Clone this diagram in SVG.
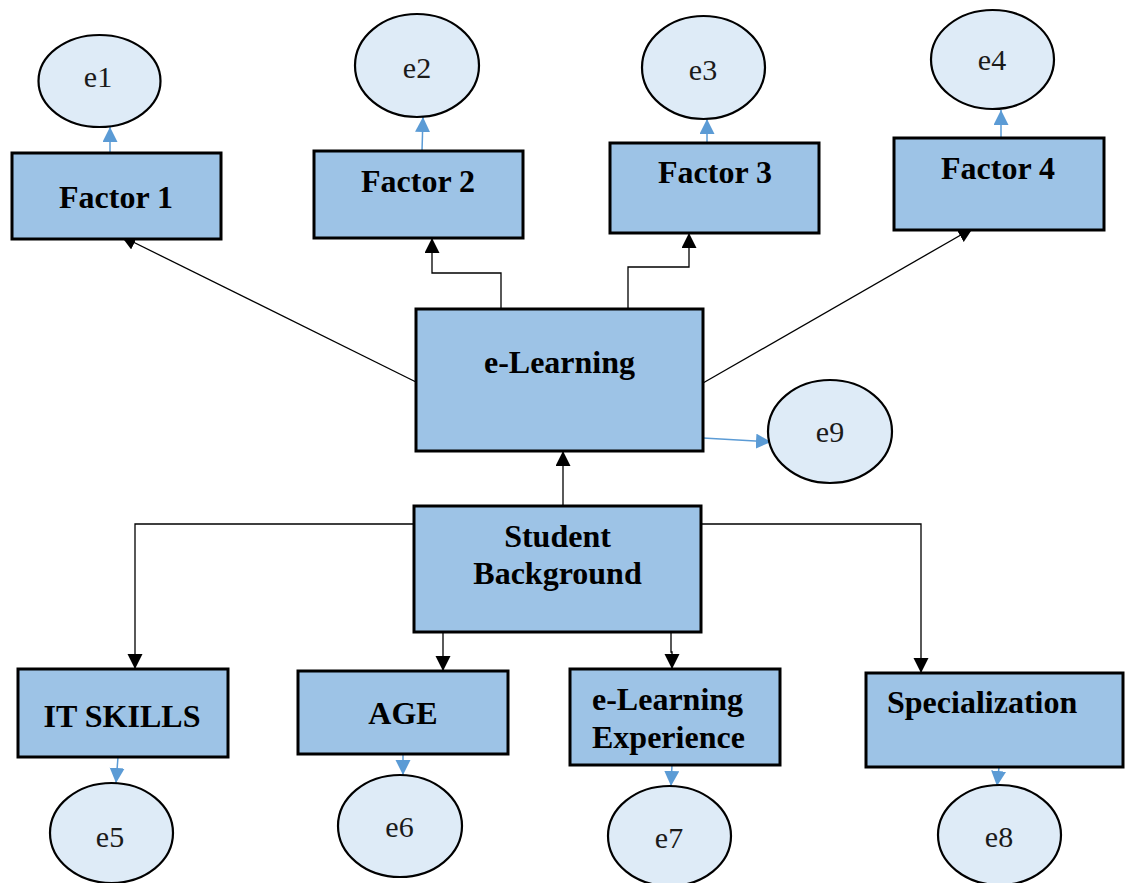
<svg xmlns="http://www.w3.org/2000/svg" width="1130" height="883" viewBox="0 0 1130 883">
  <style>
    .box { fill: #9DC3E6; stroke: #000; stroke-width: 3; }
    .err { fill: #DEEBF7; stroke: #000; stroke-width: 2.2; }
    .lbl { font-family: "Liberation Serif", "Times New Roman", serif; font-weight: bold; font-size: 32px; fill: #000; }
    .elbl { font-family: "Liberation Serif", "Times New Roman", serif; font-size: 30px; fill: #1a1a1a; text-anchor: middle; }
    .mid { text-anchor: middle; }
    .path { fill: none; stroke: #000; stroke-width: 1.3; marker-end: url(#headBlack); }
    .res { fill: none; stroke: #5B9BD5; stroke-width: 1.5; marker-end: url(#headBlue); }
  </style>
  <defs>
    <marker id="headBlack" markerUnits="userSpaceOnUse" markerWidth="16" markerHeight="16" refX="15" refY="7.5" orient="auto">
      <path d="M0,0 L15,7.5 L0,15 z" fill="#000"/>
    </marker>
    <marker id="headBlue" markerUnits="userSpaceOnUse" markerWidth="16" markerHeight="16" refX="15" refY="7.5" orient="auto">
      <path d="M0,0 L15,7.5 L0,15 z" fill="#5B9BD5"/>
    </marker>
  </defs>

  <rect width="1130" height="883" fill="#fff"/>

  <!-- structural and residual paths -->
  <g id="connectors">
    <line class="path" x1="416" y1="382" x2="121" y2="236"/>
    <path class="path" d="M501,309 V273 H432 V238"/>
    <path class="path" d="M628,309 V267 H689 V233"/>
    <line class="path" x1="703" y1="383" x2="973" y2="228"/>
    <path class="path" d="M563,506 V451"/>
    <path class="path" d="M414,524 H135 V669"/>
    <path class="path" d="M701,524 H921 V673"/>
    <path class="path" d="M443,632 V671"/>
    <path class="path" d="M671,632 V652 H672 V669"/>

    <line class="res" x1="110" y1="153" x2="110" y2="127"/>
    <line class="res" x1="422" y1="151" x2="423" y2="117"/>
    <line class="res" x1="707" y1="143" x2="707" y2="119"/>
    <line class="res" x1="1001" y1="138" x2="1001" y2="110"/>
    <line class="res" x1="703" y1="438" x2="771" y2="442"/>
    <line class="res" x1="118" y1="757" x2="116" y2="783"/>
    <line class="res" x1="403" y1="754" x2="403" y2="775"/>
    <line class="res" x1="672" y1="765" x2="671" y2="786"/>
    <line class="res" x1="999" y1="767" x2="997" y2="786"/>
  </g>

  <!-- factors -->
  <g id="factor1">
    <rect class="box" x="12" y="153" width="209" height="86"/>
    <text class="lbl mid" x="116" y="208">Factor 1</text>
  </g>
  <g id="factor2">
    <rect class="box" x="314" y="151" width="209" height="87"/>
    <text class="lbl mid" x="418" y="192">Factor 2</text>
  </g>
  <g id="factor3">
    <rect class="box" x="610" y="143" width="209" height="90"/>
    <text class="lbl mid" x="715" y="183">Factor 3</text>
  </g>
  <g id="factor4">
    <rect class="box" x="894" y="138" width="210" height="92"/>
    <text class="lbl mid" x="998" y="179">Factor 4</text>
  </g>

  <!-- error terms -->
  <g id="e1">
    <ellipse class="err" cx="99.5" cy="81" rx="61" ry="46"/>
    <text class="elbl" x="98" y="87">e1</text>
  </g>
  <g id="e2">
    <ellipse class="err" cx="417" cy="65.5" rx="62" ry="51.5"/>
    <text class="elbl" x="417" y="78">e2</text>
  </g>
  <g id="e3">
    <ellipse class="err" cx="703.5" cy="67.5" rx="61.5" ry="51.5"/>
    <text class="elbl" x="703" y="80">e3</text>
  </g>
  <g id="e4">
    <ellipse class="err" cx="992.5" cy="59.5" rx="61.5" ry="49.5"/>
    <text class="elbl" x="992" y="70">e4</text>
  </g>
  <g id="e9">
    <ellipse class="err" cx="830" cy="431.5" rx="62" ry="51.5"/>
    <text class="elbl" x="830" y="442">e9</text>
  </g>

  <!-- latent construct -->
  <g id="elearning">
    <rect class="box" x="416" y="309" width="287" height="142"/>
    <text class="lbl mid" x="559.5" y="373">e-Learning</text>
  </g>

  <g id="student-background">
    <rect class="box" x="414" y="506" width="287" height="126"/>
    <text class="lbl mid" x="557.5" y="547">Student</text>
    <text class="lbl mid" x="557.5" y="584">Background</text>
  </g>

  <!-- background variables -->
  <g id="it-skills">
    <rect class="box" x="18" y="669" width="210" height="88"/>
    <text class="lbl mid" x="122" y="727">IT SKILLS</text>
  </g>
  <g id="age">
    <rect class="box" x="298" y="671" width="210" height="83"/>
    <text class="lbl mid" x="403" y="724">AGE</text>
  </g>
  <g id="elearning-experience">
    <rect class="box" x="570" y="669" width="210" height="96"/>
    <text class="lbl" x="592" y="710">e-Learning</text>
    <text class="lbl" x="592" y="748">Experience</text>
  </g>
  <g id="specialization">
    <rect class="box" x="866" y="673" width="257" height="94"/>
    <text class="lbl" x="887" y="713">Specialization</text>
  </g>

  <g id="e5">
    <ellipse class="err" cx="111.5" cy="833" rx="61.5" ry="50"/>
    <text class="elbl" x="110" y="847">e5</text>
  </g>
  <g id="e6">
    <ellipse class="err" cx="400" cy="826" rx="62" ry="51"/>
    <text class="elbl" x="399.5" y="837">e6</text>
  </g>
  <g id="e7">
    <ellipse class="err" cx="669.5" cy="836" rx="61.5" ry="50"/>
    <text class="elbl" x="669" y="848">e7</text>
  </g>
  <g id="e8">
    <ellipse class="err" cx="999.5" cy="835" rx="61.5" ry="50"/>
    <text class="elbl" x="999" y="847">e8</text>
  </g>
</svg>
